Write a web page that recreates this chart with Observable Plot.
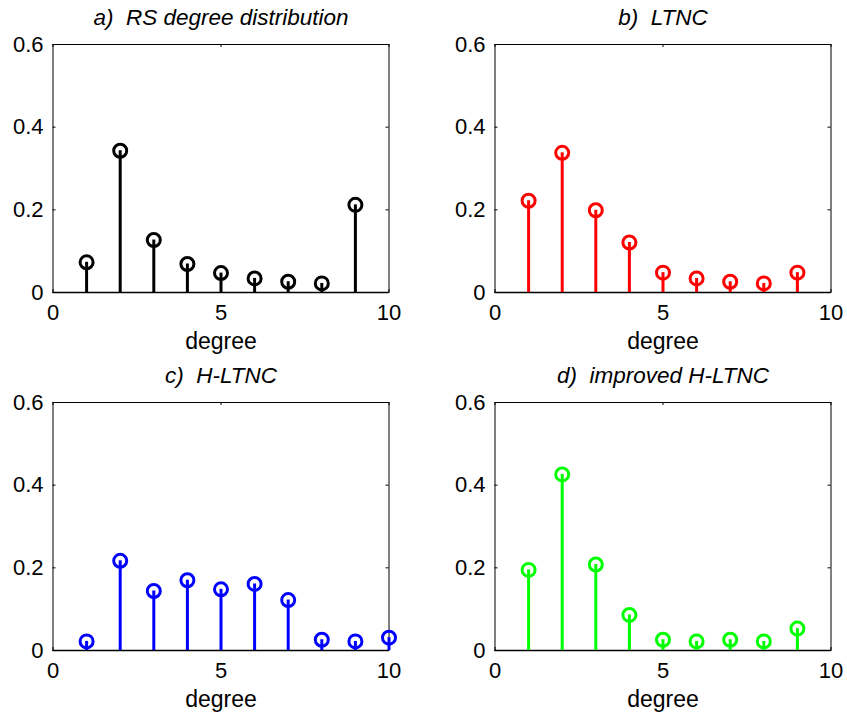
<!DOCTYPE html>
<html>
<head>
<meta charset="utf-8">
<script src="https://cdn.jsdelivr.net/npm/d3@7"></script>
<script src="https://cdn.jsdelivr.net/npm/@observablehq/plot@0.6"></script>
<style>
  html, body { margin: 0; padding: 0; background: #fff; }
  #root { position: relative; width: 847px; height: 718px; overflow: hidden; }
  .panel { position: absolute; }
</style>
</head>
<body>
<div id="root"></div>
<script>
// ---- data ----
const titles = ["a)\u00a0 RS degree distribution", "b)\u00a0 LTNC", "c)\u00a0 H-LTNC", "d)\u00a0 improved H-LTNC"];
const colors = ["#000000", "#ff0000", "#0000ff", "#00ff00"];
const degreesA = [1, 2, 3, 4, 5, 6, 7, 8, 9];
const valuesA  = [0.073, 0.343, 0.127, 0.069, 0.047, 0.034, 0.026, 0.022, 0.212];
const degreesB = [1, 2, 3, 4, 5, 6, 7, 8, 9];
const valuesB  = [0.222, 0.338, 0.199, 0.121, 0.048, 0.034, 0.026, 0.022, 0.048];
const degreesC = [1, 2, 3, 4, 5, 6, 7, 8, 9, 10];
const valuesC  = [0.022, 0.217, 0.144, 0.170, 0.148, 0.161, 0.122, 0.026, 0.022, 0.031];
const degreesD = [1, 2, 3, 4, 5, 6, 7, 8, 9];
const valuesD  = [0.195, 0.426, 0.208, 0.086, 0.026, 0.022, 0.026, 0.022, 0.053];
const xTicks = [0, 5, 10];
const yTicks = [0, 0.2, 0.4, 0.6];
const yTickLabels = ["0", "0.2", "0.4", "0.6"];
const xLabel = "degree";

const series = [
  [degreesA, valuesA],
  [degreesB, valuesB],
  [degreesC, valuesC],
  [degreesD, valuesD]
];
const positions = [[0, 0], [442, 0], [0, 358], [442, 358]];

const font = "'Liberation Sans', Arial, Helvetica, sans-serif";
const W = 400, H = 358;
const mL = 52.5, mR = 11.5, mT = 44, mB = 66;
const plotW = W - mL - mR, plotH = H - mT - mB;

const root = document.getElementById("root");
series.forEach(([deg, val], i) => {
  const data = deg.map((d, j) => ({degree: d, p: val[j]}));
  const color = colors[i];
  const chart = Plot.plot({
    width: W, height: H,
    marginLeft: mL, marginRight: mR, marginTop: mT, marginBottom: mB,
    style: {fontFamily: font, fontSize: "22px", background: "white", color: "black", overflow: "visible"},
    x: {domain: [0, 10], axis: null},
    y: {domain: [0, 0.6], axis: null},
    marks: [
      // inward ticks on all four sides
      Plot.tickX(xTicks, {x: d => d, insetTop: plotH - 3, stroke: "black", strokeWidth: 1}),
      Plot.tickX(xTicks, {x: d => d, insetBottom: plotH - 3, stroke: "black", strokeWidth: 1}),
      Plot.tickY(yTicks, {y: d => d, insetRight: plotW - 3, stroke: "black", strokeWidth: 1}),
      Plot.tickY(yTicks, {y: d => d, insetLeft: plotW - 3, stroke: "black", strokeWidth: 1}),
      Plot.axisX({ticks: xTicks, tickSize: 0, tickPadding: 11.5, label: null, fill: "black"}),
      Plot.axisY({ticks: yTicks, tickSize: 0, tickPadding: 9.5, label: null, fill: "black",
                  tickFormat: d => yTickLabels[yTicks.indexOf(d)]}),
      Plot.frame({stroke: "black", strokeWidth: 1}),
      Plot.ruleY([0], {stroke: "black", strokeWidth: 1.6}),
      Plot.ruleX(data, {x: "degree", y1: 0, y2: "p", stroke: color, strokeWidth: 3}),
      Plot.dot(data, {x: "degree", y: "p", r: 6.5, stroke: color, strokeWidth: 3, fill: "none"}),
      Plot.text([titles[i]], {text: d => d, frameAnchor: "top", lineAnchor: "middle", dy: -27, fontSize: 22.5, fontStyle: "italic", fill: "black"}),
      Plot.text([xLabel], {text: d => d, frameAnchor: "bottom", lineAnchor: "middle", dy: 49, fontSize: 23, fill: "black"})
    ]
  });
  chart.classList.add("panel");
  chart.style.left = positions[i][0] + "px";
  chart.style.top = positions[i][1] + "px";
  root.appendChild(chart);
});
</script>
</body>
</html>
